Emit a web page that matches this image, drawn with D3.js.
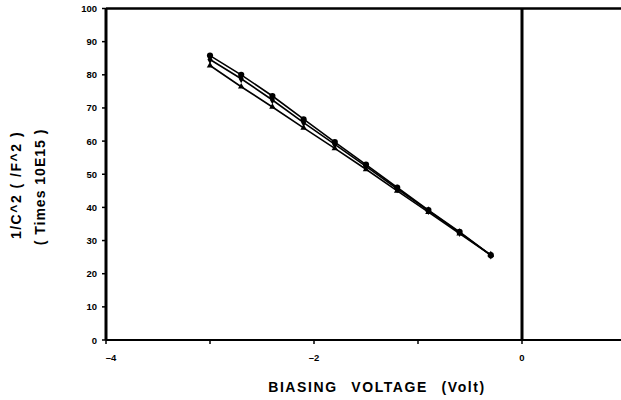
<!DOCTYPE html>
<html>
<head>
<script src="https://d3js.org/d3.v7.min.js"></script>
<style>
  body { margin: 0; background: white; }
  text { font-family: "Liberation Sans", Arial, sans-serif; font-weight: bold; fill: black; }
</style>
</head>
<body>
<svg width="621" height="400" id="chart"></svg>
<script>
// biasing voltage (V) and 1/C^2 values (x 10E15) for three samples
var voltage = [-3.0, -2.7, -2.4, -2.1, -1.8, -1.5, -1.2, -0.9, -0.6, -0.3];
var seriesA = [85.8, 80.0, 73.6, 66.6, 59.7, 52.9, 46.0, 39.2, 32.6, 25.6];
var seriesB = [84.6, 78.8, 72.4, 65.6, 59.0, 52.4, 45.6, 39.0, 32.4, 25.6];
var seriesC = [82.8, 76.4, 70.3, 64.0, 57.8, 51.5, 45.0, 38.6, 32.1, 25.6];
var yTicks = [0, 10, 20, 30, 40, 50, 60, 70, 80, 90, 100];
var xTicks = [-4, -3, -2, -1, 0];
var xLabels = [-4, -2, 0];

var svg = d3.select("#chart");
var x = d3.scaleLinear().domain([-4, 0]).range([106, 522]);
var y = d3.scaleLinear().domain([0, 100]).range([340, 8.5]);
var xEnd = 621;

// frame: left axis, bottom, top, and the zero line
svg.append("line").attr("x1", x(-4)).attr("x2", xEnd).attr("y1", y(0)).attr("y2", y(0))
  .attr("stroke", "black").attr("stroke-width", 2);
svg.append("line").attr("x1", x(-4)).attr("x2", xEnd).attr("y1", y(100)).attr("y2", y(100))
  .attr("stroke", "black").attr("stroke-width", 2.5);
svg.append("line").attr("x1", x(-4)).attr("x2", x(-4)).attr("y1", y(100)).attr("y2", y(0))
  .attr("stroke", "black").attr("stroke-width", 3);
svg.append("line").attr("x1", x(0)).attr("x2", x(0)).attr("y1", y(100)).attr("y2", y(0))
  .attr("stroke", "black").attr("stroke-width", 3);

// y ticks
var yAxis = svg.append("g");
yAxis.selectAll("line").data(yTicks).enter().append("line")
  .attr("x1", x(-4) - 4).attr("x2", x(-4))
  .attr("y1", d => y(d)).attr("y2", d => y(d))
  .attr("stroke", "black").attr("stroke-width", 1.5);
yAxis.selectAll("text").data(yTicks).enter().append("text")
  .attr("x", x(-4) - 9).attr("y", d => y(d) + 3.5)
  .attr("text-anchor", "end").attr("font-size", 9.5)
  .text(d => d);

// x ticks
var xAxis = svg.append("g");
xAxis.selectAll("line").data(xTicks).enter().append("line")
  .attr("x1", d => x(d)).attr("x2", d => x(d))
  .attr("y1", y(0)).attr("y2", y(0) + 4)
  .attr("stroke", "black").attr("stroke-width", 1.5);
xAxis.selectAll("text").data(xLabels).enter().append("text")
  .attr("x", d => x(d) + (d === -4 ? 5 : 0)).attr("y", y(0) + 21)
  .attr("text-anchor", "middle").attr("font-size", 9.5)
  .text(d => d === 0 ? "0" : "\u2013" + Math.abs(d));

// axis titles
svg.append("text").attr("x", 377).attr("y", 392)
  .attr("text-anchor", "middle").attr("font-size", 14)
  .attr("letter-spacing", 1.6).attr("word-spacing", 8)
  .text("BIASING VOLTAGE (Volt)");
svg.append("text").attr("transform", "translate(21,185) rotate(-90)")
  .attr("text-anchor", "middle").attr("font-size", 14)
  .attr("letter-spacing", 1.5)
  .text("1/C^2 ( /F^2 )");
svg.append("text").attr("transform", "translate(45,187) rotate(-90)")
  .attr("text-anchor", "middle").attr("font-size", 14)
  .attr("letter-spacing", 1)
  .text("( Times 10E15 )");

// series lines and markers
var line = d3.line().x((d, i) => x(voltage[i])).y(d => y(d));
var allSeries = [
  { values: seriesA, symbol: d3.symbolCircle, size: 30 },
  { values: seriesB, symbol: d3.symbolDiamond, size: 22 },
  { values: seriesC, symbol: d3.symbolTriangle, size: 18 }
];
allSeries.forEach(function(s) {
  svg.append("path").datum(s.values).attr("d", line)
    .attr("fill", "none").attr("stroke", "black").attr("stroke-width", 1.6);
  svg.append("g").selectAll("path").data(s.values).enter().append("path")
    .attr("transform", (d, i) => "translate(" + x(voltage[i]) + "," + y(d) + ")")
    .attr("d", d3.symbol().type(s.symbol).size(s.size))
    .attr("fill", "black");
});
</script>
</body>
</html>
